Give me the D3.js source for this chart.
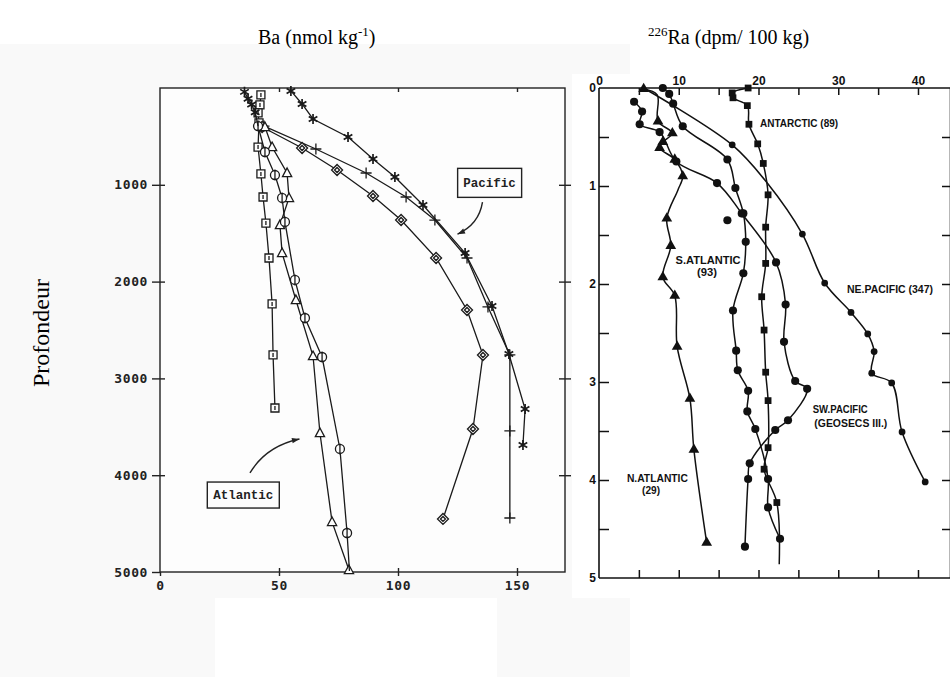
<!DOCTYPE html>
<html><head><meta charset="utf-8">
<script src="https://cdn.jsdelivr.net/npm/d3@7"></script>
<style>
html,body{margin:0;padding:0;background:#fff;}
svg{display:block;}
</style></head>
<body>
<svg id="chart" width="950" height="677"></svg>
<script>
// ---------------- DATA ----------------
// Left panel: Ba (nmol/kg) vs depth (m)   [value, depth, marker(1/0)]
const baXTicks = [0, 50, 100, 150];
const baYTicks = [1000, 2000, 3000, 4000, 5000];
const baSurface   = [[35.5,40,1],[37,110,1],[38.5,170,1],[40,250,1],[41.2,393,0]];
const baSquares   = [[42.4,72,1],[42,175,1],[41.2,258,1],[41.6,360,1],[41.2,610,1],[42.4,888,1],[43.3,1126,1],[44.5,1395,1],[45.8,1756,1],[47.1,2231,1],[47.5,2758,1],[48.3,3306,1]];
const baTriangles = [[44.1,403,1],[47.1,610,1],[53.4,878,1],[54.2,1136,1],[50.4,1415,1],[51.3,1705,1],[57.1,2190,1],[64.3,2769,1],[67.2,3564,1],[72.3,4483,1],[79.4,4979,1]];
const baCircles   = [[41.2,393,1],[44.1,661,1],[48.3,899,1],[51.3,1136,1],[52.5,1384,1],[56.7,1983,1],[60.9,2376,1],[68.1,2779,1],[75.6,3729,1],[78.6,4597,1],[79.6,4990,0]];
const baDiamonds  = [[42.9,403,1],[59.7,620,1],[74.4,847,1],[89.5,1116,1],[101.3,1364,1],[116,1756,1],[129,2293,1],[135.7,2758,1],[131.5,3523,1],[118.9,4452,1]];
const baPlus      = [[43.7,393,1],[65.5,630,1],[86.6,878,1],[103.4,1126,1],[115.5,1364,1],[129,1756,1],[137.8,2262,1],[147,2758,1],[147,3543,1],[147,4442,1]];
const baStars     = [[55,30,1],[59.7,165,1],[64.3,320,1],[79,506,1],[89.5,733,1],[98.7,919,1],[110.5,1209,1],[128.2,1705,1],[139.5,2252,1],[146.6,2748,1],[153.4,3316,1],[152.5,3688,1]];

// Right panel: 226Ra (dpm/100kg) vs depth (km)   [value, depth, marker]
const raXTicks = [0, 10, 20, 30, 40];
const raXMinor = [5, 10, 15, 20, 25, 30, 35, 40];
const raYTicks = [0, 1, 2, 3, 4, 5];
const raYMinor = [0.5, 1, 1.5, 2, 2.5, 3, 3.5, 4, 4.5];
const raAntarctic = [[18.7,0,1],[16.7,0.05,1],[16.8,0.10,1],[18.6,0.18,1],[18.8,0.37,1],[19.9,0.57,1],[20.6,0.77,1],[21.2,1.09,1],[20.9,1.42,1],[20.9,1.79,1],[20.4,2.13,1],[20.7,2.47,1],[20.9,2.90,1],[21.2,3.19,1],[21.2,3.67,1],[20.7,3.89,1],[22.3,4.23,1],[22.6,4.86,0]];
const raNAtlantic = [[5.6,0.01,1],[7.3,0.07,0],[7.4,0.34,1],[9.2,0.46,1],[8.0,0.55,1],[7.6,0.61,1],[9.5,0.73,1],[10.5,0.90,1],[9.9,1.04,0],[8.5,1.33,1],[9.0,1.61,1],[8.0,1.93,1],[9.5,2.12,1],[9.8,2.64,1],[11.4,3.17,1],[11.9,3.69,1],[13.5,4.64,1]];
const raSAtlantic = [[8.0,0.0,1],[8.8,0.06,1],[9.3,0.16,1],[10.5,0.39,1],[16.1,0.73,1],[17.1,1.02,1],[18.1,1.28,1],[18.4,1.57,1],[18.1,1.89,1],[16.8,2.27,1],[17.2,2.68,1],[17.4,2.88,1],[18.7,3.09,1],[18.6,3.30,1],[19.6,3.48,1],[21.2,3.99,1],[21.2,4.28,1],[22.7,4.60,1]];
const raNEPacific = [[5.8,0.01,0],[16.7,0.58,1],[21.1,0.97,0],[25.5,1.49,1],[28.3,1.99,1],[31.6,2.29,1],[33.7,2.51,1],[34.5,2.69,1],[34.2,2.91,1],[36.7,3.01,1],[38.0,3.51,1],[40.9,4.02,1]];
const raSWPacific = [[4.4,0.14,1],[5.4,0.24,1],[5.1,0.37,1],[7.6,0.45,1],[9.7,0.75,1],[14.8,0.97,1],[17.9,1.28,1],[22.2,1.78,1],[23.4,2.21,1],[23.2,2.59,1],[24.6,2.99,1],[26.1,3.07,1],[23.7,3.39,1],[22.1,3.49,1],[18.9,3.83,1],[18.7,3.99,1],[18.3,4.68,1]];
const raIsolated  = [[16.1,1.35,1]];

const raLabels = [
  {t:"ANTARCTIC (89)", v:20.2, d:0.36, w:78},
  {t:"S.ATLANTIC", v:9.6, d:1.76, w:65},
  {t:"(93)", v:12.3, d:1.88, w:20},
  {t:"NE.PACIFIC (347)", v:31.1, d:2.05, w:86},
  {t:"SW.PACIFIC", v:26.8, d:3.28, w:55},
  {t:"(GEOSECS III.)", v:27.0, d:3.42, w:73},
  {t:"N.ATLANTIC", v:3.5, d:3.98, w:61},
  {t:"(29)", v:5.4, d:4.10, w:18}
];

// ---------------- DRAW ----------------
const svg = d3.select("#chart");

// scan backgrounds (very light)
svg.append("rect").attr("x",0).attr("y",44).attr("width",630).attr("height",633).attr("fill","#f9f9f9");
svg.append("rect").attr("x",572).attr("y",74).attr("width",378).attr("height",524).attr("fill","#ffffff");
svg.append("rect").attr("x",215).attr("y",598).attr("width",282).attr("height",79).attr("fill","#ffffff");

// ---- left panel ----
const xBa = d3.scaleLinear().domain([0,150]).range([160,517]);
const yBa = d3.scaleLinear().domain([0,5000]).range([88,572]);
const L = svg.append("g");
const frameR = 565;
L.append("rect").attr("x",160).attr("y",88).attr("width",frameR-160).attr("height",572-88)
 .attr("fill","#fdfdfd").attr("stroke","#222").attr("stroke-width",1.4);

const plotFont = "'DejaVu Sans Mono', monospace";
const fmt = d3.format("d");
// left axis outward with labels
const gl = L.append("g").attr("transform","translate(160,0)")
 .call(d3.axisLeft(yBa).tickValues(baYTicks).tickSize(8).tickPadding(4).tickFormat(fmt));
gl.select(".domain").remove();
gl.selectAll("text").attr("font-family",plotFont).attr("font-weight","bold").attr("font-size",13).attr("fill","#222").attr("letter-spacing","0.6");
gl.selectAll("line").attr("stroke","#222").attr("stroke-width",1.4);
const gli = L.append("g").attr("transform","translate(160,0)")
 .call(d3.axisRight(yBa).tickValues(baYTicks.slice(0,4)).tickSize(5).tickFormat(""));
gli.select(".domain").remove(); gli.selectAll("line").attr("stroke","#222").attr("stroke-width",1.4);
// right frame ticks crossing
[d3.axisRight, d3.axisLeft].forEach(f=>{
  const g = L.append("g").attr("transform",`translate(${frameR},0)`)
   .call(f(yBa).tickValues(baYTicks.slice(0,4)).tickSize(6).tickFormat(""));
  g.select(".domain").remove(); g.selectAll("line").attr("stroke","#222").attr("stroke-width",1.4);
});
// bottom axis
const gb = L.append("g").attr("transform","translate(0,572)")
 .call(d3.axisBottom(xBa).tickValues(baXTicks).tickSize(4).tickPadding(5).tickFormat(fmt));
gb.select(".domain").remove();
gb.selectAll("text").attr("font-family",plotFont).attr("font-weight","bold").attr("font-size",13).attr("fill","#222").attr("letter-spacing","0.6");
gb.selectAll("line").attr("stroke","#222").attr("stroke-width",1.4);
const gbi = L.append("g").attr("transform","translate(0,572)")
 .call(d3.axisTop(xBa).tickValues(baXTicks.slice(1)).tickSize(4).tickFormat(""));
gbi.select(".domain").remove(); gbi.selectAll("line").attr("stroke","#222").attr("stroke-width",1.4);
// top ticks
const gt = L.append("g").attr("transform","translate(0,88)")
 .call(d3.axisBottom(xBa).tickValues(baXTicks.slice(1)).tickSize(4).tickFormat(""));
gt.select(".domain").remove(); gt.selectAll("line").attr("stroke","#222").attr("stroke-width",1.4);

// markers
const sym = {
  square: "M-4,-4H4V4H-4Z M0,-2V2",
  circle: "M4.5,0A4.5,4.5 0 1,1 -4.5,0A4.5,4.5 0 1,1 4.5,0Z M0,-5.5V5.5",
  triangle: "M0,-5L4.6,3.6H-4.6Z",
  diamond: "M0,-5.5L5.5,0L0,5.5L-5.5,0Z M0,-2.5L2.5,0L0,2.5L-2.5,0Z",
  plus: "M-5.5,0H5.5M0,-5.5V5.5",
  star: "M0,-5V5M-4.3,-2.5L4.3,2.5M-4.3,2.5L4.3,-2.5"
};
const lineBa = d3.line().x(d=>xBa(d[0])).y(d=>yBa(d[1]));
function drawBa(data, shape){
  const g = L.append("g");
  g.append("path").datum(data).attr("d",lineBa).attr("fill","none").attr("stroke","#1a1a1a").attr("stroke-width",1.3);
  g.selectAll("path.m").data(data.filter(d=>d[2])).join("path").attr("class","m")
   .attr("transform",d=>`translate(${xBa(d[0])},${yBa(d[1])})`)
   .attr("d",sym[shape]).attr("fill", shape==="triangle"||shape==="square"||shape==="circle"||shape==="diamond" ? "#fdfdfd":"none")
   .attr("stroke","#1a1a1a").attr("stroke-width", shape==="star"?1.7:1.3);
}
drawBa(baSquares,"square");
drawBa(baPlus,"plus");
drawBa(baStars,"star");
drawBa(baDiamonds,"diamond");
drawBa(baTriangles,"triangle");
drawBa(baCircles,"circle");
drawBa(baSurface,"star");

// Boxes and arrows
const boxFont = "'Liberation Mono', 'DejaVu Sans Mono', monospace";
function box(cx, cy, w, h, txt){
  L.append("rect").attr("x",cx-w/2).attr("y",cy-h/2).attr("width",w).attr("height",h)
   .attr("fill","#fdfdfd").attr("stroke","#222").attr("stroke-width",1.4);
  L.append("text").attr("x",cx).attr("y",cy+4).attr("text-anchor","middle")
   .attr("font-family",boxFont).attr("font-weight","bold").attr("font-size",12.5).attr("fill","#222").text(txt);
}
box(xBa(138.5), yBa(980), 64, 29, "Pacific");
box(xBa(35), yBa(4205), 72, 26, "Atlantic");
function arrow(p0, c, p1){
  L.append("path").attr("d",`M${p0[0]},${p0[1]}Q${c[0]},${c[1]} ${p1[0]},${p1[1]}`)
   .attr("fill","none").attr("stroke","#222").attr("stroke-width",1.4);
  const ang = Math.atan2(p1[1]-c[1], p1[0]-c[0]);
  const a = 8, s = 0.35;
  const pA = [p1[0]-a*Math.cos(ang-s), p1[1]-a*Math.sin(ang-s)];
  const pB = [p1[0]-a*Math.cos(ang+s), p1[1]-a*Math.sin(ang+s)];
  L.append("path").attr("d",`M${p1[0]},${p1[1]}L${pA[0]},${pA[1]}L${pB[0]},${pB[1]}Z`).attr("fill","#222");
}
arrow([xBa(135.5),yBa(1180)],[xBa(134),yBa(1410)],[xBa(125),yBa(1510)]);
arrow([xBa(37.8),yBa(3977)],[xBa(44.5),yBa(3700)],[xBa(58.6),yBa(3626)]);

// ---- right panel ----
const xRa = d3.scaleLinear().domain([0,40]).range([599,918]);
const yRa = d3.scaleLinear().domain([0,5]).range([88,578]);
const R = svg.append("g");
const rEdge = 951;
R.append("line").attr("x1",599).attr("x2",rEdge).attr("y1",88).attr("y2",88).attr("stroke","#111").attr("stroke-width",1.6);
R.append("line").attr("x1",599).attr("x2",rEdge).attr("y1",578).attr("y2",578).attr("stroke","#111").attr("stroke-width",1.6);
R.append("line").attr("x1",599).attr("x2",599).attr("y1",88).attr("y2",578).attr("stroke","#111").attr("stroke-width",1.6);
R.append("line").attr("x1",rEdge-0.5).attr("x2",rEdge-0.5).attr("y1",88).attr("y2",578).attr("stroke","#111").attr("stroke-width",1.6);

const raFont = "'Liberation Sans', Arial, sans-serif";
const gtr = R.append("g").attr("transform","translate(0,88)")
 .call(d3.axisBottom(xRa).tickValues(raXMinor).tickSize(7).tickFormat(""));
gtr.select(".domain").remove(); gtr.selectAll("line").attr("stroke","#111").attr("stroke-width",1.5);
const gtl = R.append("g").attr("transform","translate(0,88)")
 .call(d3.axisTop(xRa).tickValues(raXTicks).tickSize(0).tickPadding(3).tickFormat(fmt));
gtl.select(".domain").remove();
gtl.selectAll("text").attr("font-family",raFont).attr("font-weight","bold").attr("font-size",12).attr("fill","#111");
const gbr = R.append("g").attr("transform","translate(0,578)")
 .call(d3.axisTop(xRa).tickValues(raXMinor).tickSize(8).tickFormat(""));
gbr.select(".domain").remove(); gbr.selectAll("line").attr("stroke","#111").attr("stroke-width",1.5);
const glr = R.append("g").attr("transform","translate(599,0)")
 .call(d3.axisRight(yRa).tickValues(raYMinor).tickSize(10).tickFormat(""));
glr.select(".domain").remove(); glr.selectAll("line").attr("stroke","#111").attr("stroke-width",1.5);
const gll = R.append("g").attr("transform","translate(599,0)")
 .call(d3.axisLeft(yRa).tickValues(raYTicks).tickSize(0).tickPadding(3).tickFormat(fmt));
gll.select(".domain").remove();
gll.selectAll("text").attr("font-family",raFont).attr("font-weight","bold").attr("font-size",12).attr("fill","#111");
const grr = R.append("g").attr("transform",`translate(${rEdge-1},0)`)
 .call(d3.axisLeft(yRa).tickValues(raYMinor).tickSize(8).tickFormat(""));
grr.select(".domain").remove(); grr.selectAll("line").attr("stroke","#111").attr("stroke-width",1.5);

const lineRa = d3.line().x(d=>xRa(d[0])).y(d=>yRa(d[1])).curve(d3.curveCatmullRom.alpha(0.5));
const rsym = {
  square: d3.symbol().type(d3.symbolSquare).size(46)(),
  dot: d3.symbol().type(d3.symbolCircle).size(52)(),
  small: d3.symbol().type(d3.symbolCircle).size(36)(),
  tri: d3.symbol().type(d3.symbolTriangle).size(50)()
};
function drawRa(data, shape, withLine=true){
  const g = R.append("g");
  if(withLine) g.append("path").datum(data).attr("d",lineRa).attr("fill","none").attr("stroke","#111").attr("stroke-width",1.5);
  g.selectAll("path.m").data(data.filter(d=>d[2])).join("path").attr("class","m")
   .attr("transform",d=>`translate(${xRa(d[0])},${yRa(d[1])})`)
   .attr("d",rsym[shape]).attr("fill","#111");
}
drawRa(raAntarctic,"square");
drawRa(raNEPacific,"small");
drawRa(raNAtlantic,"tri");
drawRa(raSAtlantic,"dot");
drawRa(raSWPacific,"dot");
drawRa(raIsolated,"dot",false);

R.selectAll("text.lab").data(raLabels).join("text").attr("class","lab")
 .attr("x",d=>xRa(d.v)).attr("y",d=>yRa(d.d)+4)
 .attr("font-family",raFont).attr("font-weight","bold").attr("font-size",10.5).attr("fill","#111")
 .attr("textLength",d=>d.w).attr("lengthAdjust","spacingAndGlyphs").text(d=>d.t);

// ---- titles ----
const serif = "'Liberation Serif', 'Times New Roman', serif";
const t1 = svg.append("text").attr("x",258).attr("y",44).attr("font-family",serif).attr("font-size",20).attr("fill","#000");
t1.append("tspan").text("Ba (nmol kg");
t1.append("tspan").attr("font-size",13).attr("dy",-8).text("-1");
t1.append("tspan").attr("dy",8).text(")");
const t2 = svg.append("text").attr("x",648).attr("y",44).attr("font-family",serif).attr("font-size",20).attr("fill","#000");
t2.append("tspan").attr("font-size",13).attr("dy",-8).text("226");
t2.append("tspan").attr("dy",8).text("Ra (dpm/ 100 kg)");
svg.append("text").attr("transform","translate(49,333) rotate(-90)").attr("text-anchor","middle")
 .attr("font-family",serif).attr("font-size",24).attr("fill","#000").text("Profondeur");
</script>
</body></html>
